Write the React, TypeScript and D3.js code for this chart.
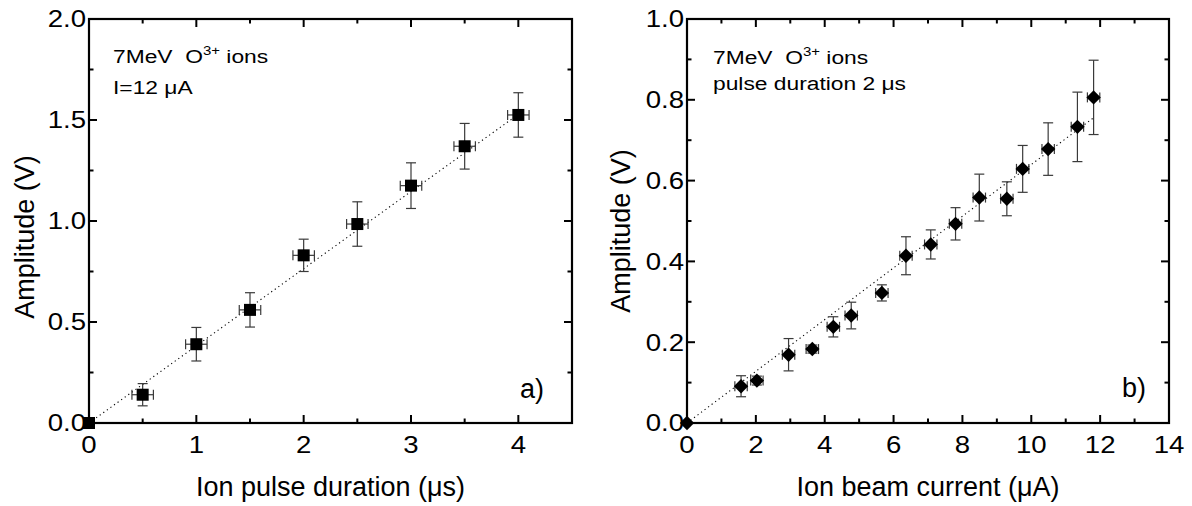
import React from "react";
import * as d3 from "d3";

// ---------- data ----------
const pulseDuration = [0, 0.5, 1, 1.5, 2, 2.5, 3, 3.5, 4];
const amplitudeA = [0, 0.14, 0.39, 0.56, 0.83, 0.985, 1.175, 1.37, 1.525];
const amplitudeAErr = [0, 0.055, 0.083, 0.085, 0.08, 0.11, 0.113, 0.113, 0.11];
const pulseDurationErr = [0, 0.1, 0.1, 0.1, 0.1, 0.1, 0.1, 0.1, 0.1];
const fitA = [[0, 0], [4, 1.528]];

const beamCurrent = [0, 1.57, 2.03, 2.95, 3.64, 4.25, 4.77, 5.66, 6.36, 7.08, 7.8, 8.49, 9.29, 9.75, 10.49, 11.34, 11.81];
const amplitudeB = [0, 0.091, 0.105, 0.169, 0.183, 0.238, 0.266, 0.322, 0.414, 0.442, 0.493, 0.558, 0.555, 0.629, 0.678, 0.733, 0.806];
const amplitudeBErr = [0, 0.026, 0.011, 0.04, 0.01, 0.025, 0.033, 0.02, 0.047, 0.036, 0.04, 0.058, 0.042, 0.058, 0.065, 0.086, 0.092];
const beamCurrentErr = [0, 0.18, 0.18, 0.18, 0.18, 0.18, 0.18, 0.18, 0.18, 0.18, 0.18, 0.18, 0.18, 0.18, 0.18, 0.18, 0.18];
const fitB = [[0, 0], [11.8, 0.755]];

const xTicksA = [0, 1, 2, 3, 4];
const xMinorA = [0.5, 1.5, 2.5, 3.5, 4.5];
const yTicksA = [0, 0.5, 1.0, 1.5, 2.0];
const yMinorA = [0.25, 0.75, 1.25, 1.75];

const xTicksB = [0, 2, 4, 6, 8, 10, 12, 14];
const xMinorB = [1, 3, 5, 7, 9, 11, 13];
const yTicksB = [0, 0.2, 0.4, 0.6, 0.8, 1.0];
const yMinorB = [0.1, 0.3, 0.5, 0.7, 0.9];

const FONT = "'Liberation Sans', Arial, Helvetica, sans-serif";
const SX = 1.2; // horizontal stretch of tick labels & annotations

type PanelProps = {
  x0: number; x1: number; y0: number; y1: number;
  xDomain: [number, number]; yDomain: [number, number];
  xTicks: number[]; xMinor: number[]; yTicks: number[]; yMinor: number[];
  xs: number[]; ys: number[]; yErr: number[]; xErr: number[];
  fit: number[][];
  marker: "square" | "diamond";
  xTitle: string; yTitleX: number; yTitleY: number;
  yFmt: (v: number) => string;
  panelLabel: string; panelLabelX: number; panelLabelY: number;
  annX: number; annY: number; line2: string; line2Y: number;
};

function Panel(p: PanelProps) {
  const x = d3.scaleLinear().domain(p.xDomain).range([p.x0, p.x1]);
  const y = d3.scaleLinear().domain(p.yDomain).range([p.y1, p.y0]);
  const MAJ = 8, MIN = 4.5;
  const line = d3.line<number[]>().x((d) => x(d[0])).y((d) => y(d[1]));
  const errCol = "#3a3a3a";
  const cap = 5;
  return (
    <g>
      <path d={line(p.fit) || ""} fill="none" stroke="#000" strokeWidth={1.1} strokeDasharray="1.2,3.2" />
      {p.xs.map((xv, i) => {
        if (p.yErr[i] === 0 && p.xErr[i] === 0) return null;
        const cx = x(xv), cy = y(p.ys[i]);
        const yt = y(p.ys[i] + p.yErr[i]), yb = y(p.ys[i] - p.yErr[i]);
        const xl = x(xv - p.xErr[i]), xr = x(xv + p.xErr[i]);
        return (
          <g key={"e" + i} stroke={errCol} strokeWidth={1.2} fill="none">
            <line x1={cx} x2={cx} y1={yt} y2={yb} />
            <line x1={cx - cap} x2={cx + cap} y1={yt} y2={yt} />
            <line x1={cx - cap} x2={cx + cap} y1={yb} y2={yb} />
            <line x1={xl} x2={xr} y1={cy} y2={cy} />
            <line x1={xl} x2={xl} y1={cy - cap} y2={cy + cap} />
            <line x1={xr} x2={xr} y1={cy - cap} y2={cy + cap} />
          </g>
        );
      })}
      {p.xs.map((xv, i) => {
        const cx = x(xv), cy = y(p.ys[i]);
        if (p.marker === "square") {
          return <rect key={"m" + i} x={cx - 6} y={cy - 6} width={12} height={12} fill="#000" />;
        }
        const r = 7.2;
        return (
          <path key={"m" + i} d={`M${cx},${cy - r}L${cx + r},${cy}L${cx},${cy + r}L${cx - r},${cy}Z`} fill="#000" />
        );
      })}
      <rect x={p.x0} y={p.y0} width={p.x1 - p.x0} height={p.y1 - p.y0} fill="none" stroke="#000" strokeWidth={2.2} />
      <g stroke="#000" strokeWidth={2}>
        {p.xTicks.map((t) => (
          <g key={"xt" + t}>
            <line x1={x(t)} x2={x(t)} y1={p.y1} y2={p.y1 - MAJ} />
            <line x1={x(t)} x2={x(t)} y1={p.y0} y2={p.y0 + MAJ} />
          </g>
        ))}
        {p.xMinor.map((t) => (
          <g key={"xm" + t}>
            <line x1={x(t)} x2={x(t)} y1={p.y1} y2={p.y1 - MIN} />
            <line x1={x(t)} x2={x(t)} y1={p.y0} y2={p.y0 + MIN} />
          </g>
        ))}
        {p.yTicks.map((t) => (
          <g key={"yt" + t}>
            <line x1={p.x0} x2={p.x0 + MAJ} y1={y(t)} y2={y(t)} />
            <line x1={p.x1} x2={p.x1 - MAJ} y1={y(t)} y2={y(t)} />
          </g>
        ))}
        {p.yMinor.map((t) => (
          <g key={"ym" + t}>
            <line x1={p.x0} x2={p.x0 + MIN} y1={y(t)} y2={y(t)} />
            <line x1={p.x1} x2={p.x1 - MIN} y1={y(t)} y2={y(t)} />
          </g>
        ))}
      </g>
      <g fontFamily={FONT} fontSize={23} fill="#000">
        {p.xTicks.map((t) => (
          <text key={"xl" + t} transform={`translate(${x(t)},${p.y1 + 30}) scale(${SX},1)`} textAnchor="middle">{String(t)}</text>
        ))}
        {p.yTicks.map((t) => (
          <text key={"yl" + t} transform={`translate(${p.x0 - 3},${y(t) + 8.3}) scale(${SX},1)`} textAnchor="end">{p.yFmt(t)}</text>
        ))}
      </g>
      <text x={(p.x0 + p.x1) / 2} y={496} textAnchor="middle" fontFamily={FONT} fontSize={27}>{p.xTitle}</text>
      <text transform={`translate(${p.yTitleX},${p.yTitleY}) rotate(-90)`} textAnchor="middle" fontFamily={FONT} fontSize={27}>Amplitude (V)</text>
      <text x={p.panelLabelX} y={p.panelLabelY} fontFamily={FONT} fontSize={27}>{p.panelLabel}</text>
      <g transform={`translate(${p.annX},0) scale(${SX},1)`}>
        <text x={0} y={p.annY} fontFamily={FONT} fontSize={19} style={{ whiteSpace: "pre" }}>
          {"7MeV  O"}
          <tspan fontSize={12.5} dy={-8}>3+</tspan>
          <tspan dy={8}>{" ions"}</tspan>
        </text>
        <text x={0} y={p.line2Y} fontFamily={FONT} fontSize={19}>{p.line2}</text>
      </g>
    </g>
  );
}

export default function App() {
  return (
    <svg width={1192} height={506} style={{ position: "absolute", left: 0, top: 0, background: "#fff" }}>
      <rect width={1192} height={506} fill="#fff" />
      <Panel
        x0={89} x1={572} y0={19} y1={423}
        xDomain={[0, 4.5]} yDomain={[0, 2]}
        xTicks={xTicksA} xMinor={xMinorA} yTicks={yTicksA} yMinor={yMinorA}
        xs={pulseDuration} ys={amplitudeA} yErr={amplitudeAErr} xErr={pulseDurationErr}
        fit={fitA} marker="square"
        xTitle="Ion pulse duration (μs)" yTitleX={34} yTitleY={237}
        yFmt={(v) => v.toFixed(1)}
        panelLabel="a)" panelLabelX={520} panelLabelY={398}
        annX={113} annY={63} line2="I=12 μA" line2Y={94}
      />
      <Panel
        x0={687} x1={1169} y0={19} y1={423}
        xDomain={[0, 14]} yDomain={[0, 1]}
        xTicks={xTicksB} xMinor={xMinorB} yTicks={yTicksB} yMinor={yMinorB}
        xs={beamCurrent} ys={amplitudeB} yErr={amplitudeBErr} xErr={beamCurrentErr}
        fit={fitB} marker="diamond"
        xTitle="Ion beam current (μA)" yTitleX={630} yTitleY={231}
        yFmt={(v) => v.toFixed(1)}
        panelLabel="b)" panelLabelX={1122} panelLabelY={397}
        annX={713} annY={64} line2="pulse duration 2 μs" line2Y={90}
      />
    </svg>
  );
}
